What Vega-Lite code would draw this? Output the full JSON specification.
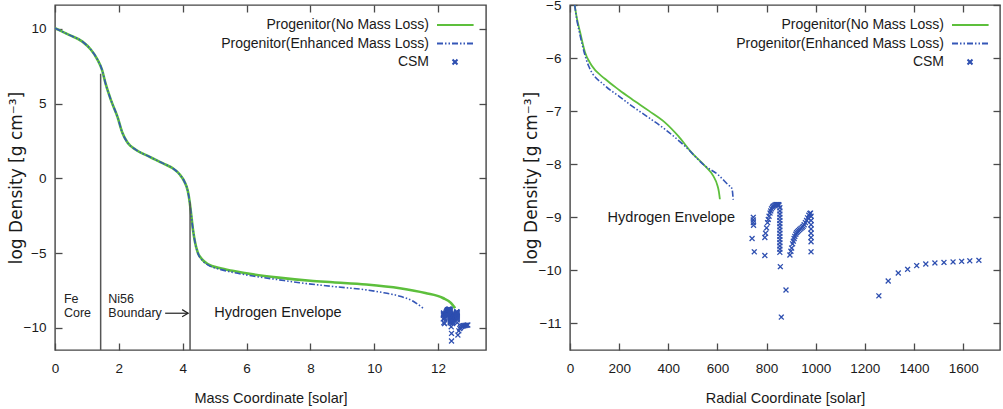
{
  "$schema": "https://vega.github.io/schema/vega-lite/v6.json",
  "autosize": {"type": "none"},
  "padding": {"left": 55, "top": 5, "right": 948, "bottom": 404},
  "spacing": 84,
  "bounds": "flush",
  "config": {
    "font": "Liberation Sans",
    "view": {"stroke": "#454545", "strokeWidth": 1.4},
    "axis": {"domain": false, "grid": false, "tickSize": -7, "tickColor": "#4a4a4a", "tickWidth": 1.3, "labelFont": "Liberation Sans", "labelFontSize": 13.5, "labelColor": "#1a1a1a", "labelFlush": false, "labelOverlap": false, "titleFont": "Liberation Sans", "titleFontSize": 14.5, "titleFontWeight": "normal", "titleColor": "#1a1a1a"},
    "axisX": {"labelPadding": 18, "titlePadding": 17},
    "axisY": {"labelPadding": 16, "titlePadding": -2, "titleFont": "DejaVu Sans", "titleFontSize": 17},
    "legend": {"symbolSize": 36, "symbolStrokeWidth": 2, "labelFont": "Liberation Sans", "labelFontSize": 14, "labelColor": "#1a1a1a", "labelAlign": "right", "labelOffset": -33, "labelLimit": 400, "rowPadding": 4.5, "padding": 0, "title": null}
  },
  "datasets": {
    "massProfile": [
      {"series": "Progenitor(No Mass Loss)", "m": 0, "d": 10.05},
      {"series": "Progenitor(No Mass Loss)", "m": 0.44, "d": 9.6},
      {"series": "Progenitor(No Mass Loss)", "m": 0.86, "d": 9.15},
      {"series": "Progenitor(No Mass Loss)", "m": 1.12, "d": 8.62},
      {"series": "Progenitor(No Mass Loss)", "m": 1.33, "d": 7.95},
      {"series": "Progenitor(No Mass Loss)", "m": 1.47, "d": 7.28},
      {"series": "Progenitor(No Mass Loss)", "m": 1.59, "d": 6.3},
      {"series": "Progenitor(No Mass Loss)", "m": 1.75, "d": 5.25},
      {"series": "Progenitor(No Mass Loss)", "m": 1.96, "d": 4.1},
      {"series": "Progenitor(No Mass Loss)", "m": 2.11, "d": 3.05},
      {"series": "Progenitor(No Mass Loss)", "m": 2.27, "d": 2.4},
      {"series": "Progenitor(No Mass Loss)", "m": 2.53, "d": 1.92},
      {"series": "Progenitor(No Mass Loss)", "m": 2.95, "d": 1.46},
      {"series": "Progenitor(No Mass Loss)", "m": 3.37, "d": 1.02},
      {"series": "Progenitor(No Mass Loss)", "m": 3.7, "d": 0.66},
      {"series": "Progenitor(No Mass Loss)", "m": 3.9, "d": 0.28},
      {"series": "Progenitor(No Mass Loss)", "m": 4.05, "d": -0.2},
      {"series": "Progenitor(No Mass Loss)", "m": 4.16, "d": -0.85},
      {"series": "Progenitor(No Mass Loss)", "m": 4.22, "d": -1.6},
      {"series": "Progenitor(No Mass Loss)", "m": 4.27, "d": -2.5},
      {"series": "Progenitor(No Mass Loss)", "m": 4.32, "d": -3.4},
      {"series": "Progenitor(No Mass Loss)", "m": 4.38, "d": -4.2},
      {"series": "Progenitor(No Mass Loss)", "m": 4.47, "d": -4.95},
      {"series": "Progenitor(No Mass Loss)", "m": 4.6, "d": -5.4},
      {"series": "Progenitor(No Mass Loss)", "m": 4.8, "d": -5.75},
      {"series": "Progenitor(No Mass Loss)", "m": 5.15, "d": -6.0},
      {"series": "Progenitor(No Mass Loss)", "m": 5.6, "d": -6.2},
      {"series": "Progenitor(No Mass Loss)", "m": 6.2, "d": -6.42},
      {"series": "Progenitor(No Mass Loss)", "m": 7.0, "d": -6.64},
      {"series": "Progenitor(No Mass Loss)", "m": 8.0, "d": -6.85},
      {"series": "Progenitor(No Mass Loss)", "m": 8.7, "d": -6.95},
      {"series": "Progenitor(No Mass Loss)", "m": 9.75, "d": -7.1},
      {"series": "Progenitor(No Mass Loss)", "m": 10.8, "d": -7.35},
      {"series": "Progenitor(No Mass Loss)", "m": 11.6, "d": -7.67},
      {"series": "Progenitor(No Mass Loss)", "m": 12.15, "d": -8.0},
      {"series": "Progenitor(No Mass Loss)", "m": 12.4, "d": -8.33},
      {"series": "Progenitor(No Mass Loss)", "m": 12.53, "d": -8.68},
      {"series": "Progenitor(Enhanced Mass Loss)", "m": 0, "d": 10.05},
      {"series": "Progenitor(Enhanced Mass Loss)", "m": 0.44, "d": 9.6},
      {"series": "Progenitor(Enhanced Mass Loss)", "m": 0.86, "d": 9.15},
      {"series": "Progenitor(Enhanced Mass Loss)", "m": 1.12, "d": 8.62},
      {"series": "Progenitor(Enhanced Mass Loss)", "m": 1.33, "d": 7.95},
      {"series": "Progenitor(Enhanced Mass Loss)", "m": 1.47, "d": 7.28},
      {"series": "Progenitor(Enhanced Mass Loss)", "m": 1.59, "d": 6.3},
      {"series": "Progenitor(Enhanced Mass Loss)", "m": 1.75, "d": 5.25},
      {"series": "Progenitor(Enhanced Mass Loss)", "m": 1.96, "d": 4.1},
      {"series": "Progenitor(Enhanced Mass Loss)", "m": 2.11, "d": 3.05},
      {"series": "Progenitor(Enhanced Mass Loss)", "m": 2.27, "d": 2.4},
      {"series": "Progenitor(Enhanced Mass Loss)", "m": 2.53, "d": 1.92},
      {"series": "Progenitor(Enhanced Mass Loss)", "m": 2.95, "d": 1.46},
      {"series": "Progenitor(Enhanced Mass Loss)", "m": 3.37, "d": 1.02},
      {"series": "Progenitor(Enhanced Mass Loss)", "m": 3.7, "d": 0.66},
      {"series": "Progenitor(Enhanced Mass Loss)", "m": 3.9, "d": 0.28},
      {"series": "Progenitor(Enhanced Mass Loss)", "m": 4.05, "d": -0.2},
      {"series": "Progenitor(Enhanced Mass Loss)", "m": 4.16, "d": -0.85},
      {"series": "Progenitor(Enhanced Mass Loss)", "m": 4.22, "d": -1.6},
      {"series": "Progenitor(Enhanced Mass Loss)", "m": 4.27, "d": -2.5},
      {"series": "Progenitor(Enhanced Mass Loss)", "m": 4.32, "d": -3.4},
      {"series": "Progenitor(Enhanced Mass Loss)", "m": 4.38, "d": -4.2},
      {"series": "Progenitor(Enhanced Mass Loss)", "m": 4.47, "d": -4.98},
      {"series": "Progenitor(Enhanced Mass Loss)", "m": 4.6, "d": -5.45},
      {"series": "Progenitor(Enhanced Mass Loss)", "m": 4.8, "d": -5.8},
      {"series": "Progenitor(Enhanced Mass Loss)", "m": 5.15, "d": -6.07},
      {"series": "Progenitor(Enhanced Mass Loss)", "m": 5.6, "d": -6.3},
      {"series": "Progenitor(Enhanced Mass Loss)", "m": 6.2, "d": -6.53},
      {"series": "Progenitor(Enhanced Mass Loss)", "m": 7.0, "d": -6.78},
      {"series": "Progenitor(Enhanced Mass Loss)", "m": 7.66, "d": -6.98},
      {"series": "Progenitor(Enhanced Mass Loss)", "m": 8.7, "d": -7.23},
      {"series": "Progenitor(Enhanced Mass Loss)", "m": 9.75, "d": -7.46},
      {"series": "Progenitor(Enhanced Mass Loss)", "m": 10.3, "d": -7.65},
      {"series": "Progenitor(Enhanced Mass Loss)", "m": 10.8, "d": -7.88},
      {"series": "Progenitor(Enhanced Mass Loss)", "m": 11.22, "d": -8.22},
      {"series": "Progenitor(Enhanced Mass Loss)", "m": 11.53, "d": -8.68}
    ],
    "radiusProfile": [
      {"series": "Progenitor(No Mass Loss)", "r": 19, "d": -5.0},
      {"series": "Progenitor(No Mass Loss)", "r": 28, "d": -5.25},
      {"series": "Progenitor(No Mass Loss)", "r": 41, "d": -5.51},
      {"series": "Progenitor(No Mass Loss)", "r": 61, "d": -5.89},
      {"series": "Progenitor(No Mass Loss)", "r": 88, "d": -6.14},
      {"series": "Progenitor(No Mass Loss)", "r": 142, "d": -6.39},
      {"series": "Progenitor(No Mass Loss)", "r": 200, "d": -6.6},
      {"series": "Progenitor(No Mass Loss)", "r": 251, "d": -6.77},
      {"series": "Progenitor(No Mass Loss)", "r": 320, "d": -6.99},
      {"series": "Progenitor(No Mass Loss)", "r": 386, "d": -7.21},
      {"series": "Progenitor(No Mass Loss)", "r": 441, "d": -7.47},
      {"series": "Progenitor(No Mass Loss)", "r": 495, "d": -7.78},
      {"series": "Progenitor(No Mass Loss)", "r": 549, "d": -8.03},
      {"series": "Progenitor(No Mass Loss)", "r": 583, "d": -8.22},
      {"series": "Progenitor(No Mass Loss)", "r": 600, "d": -8.4},
      {"series": "Progenitor(No Mass Loss)", "r": 606, "d": -8.52},
      {"series": "Progenitor(No Mass Loss)", "r": 610, "d": -8.66},
      {"series": "Progenitor(Enhanced Mass Loss)", "r": 19, "d": -5.0},
      {"series": "Progenitor(Enhanced Mass Loss)", "r": 28, "d": -5.28},
      {"series": "Progenitor(Enhanced Mass Loss)", "r": 41, "d": -5.57},
      {"series": "Progenitor(Enhanced Mass Loss)", "r": 75, "d": -6.14},
      {"series": "Progenitor(Enhanced Mass Loss)", "r": 142, "d": -6.52},
      {"series": "Progenitor(Enhanced Mass Loss)", "r": 200, "d": -6.72},
      {"series": "Progenitor(Enhanced Mass Loss)", "r": 251, "d": -6.9},
      {"series": "Progenitor(Enhanced Mass Loss)", "r": 320, "d": -7.12},
      {"series": "Progenitor(Enhanced Mass Loss)", "r": 386, "d": -7.34},
      {"series": "Progenitor(Enhanced Mass Loss)", "r": 468, "d": -7.66},
      {"series": "Progenitor(Enhanced Mass Loss)", "r": 549, "d": -8.03},
      {"series": "Progenitor(Enhanced Mass Loss)", "r": 603, "d": -8.2},
      {"series": "Progenitor(Enhanced Mass Loss)", "r": 644, "d": -8.39},
      {"series": "Progenitor(Enhanced Mass Loss)", "r": 658, "d": -8.45},
      {"series": "Progenitor(Enhanced Mass Loss)", "r": 662, "d": -8.55},
      {"series": "Progenitor(Enhanced Mass Loss)", "r": 664, "d": -8.67}
    ],
    "csm": [
      {"series": "CSM", "r": 741, "m": 12.16, "d": -9.4},
      {"series": "CSM", "r": 746, "m": 12.17, "d": -9.0},
      {"series": "CSM", "r": 746, "m": 12.17, "d": -9.05},
      {"series": "CSM", "r": 746, "m": 12.17, "d": -9.1},
      {"series": "CSM", "r": 747, "m": 12.17, "d": -9.15},
      {"series": "CSM", "r": 750, "m": 12.18, "d": -9.65},
      {"series": "CSM", "r": 793, "m": 12.2, "d": -9.38},
      {"series": "CSM", "r": 793, "m": 12.2, "d": -9.72},
      {"series": "CSM", "r": 796, "m": 12.21, "d": -9.3},
      {"series": "CSM", "r": 800, "m": 12.22, "d": -9.2},
      {"series": "CSM", "r": 804, "m": 12.23, "d": -9.1},
      {"series": "CSM", "r": 807, "m": 12.24, "d": -9.04},
      {"series": "CSM", "r": 810, "m": 12.25, "d": -8.98},
      {"series": "CSM", "r": 814, "m": 12.26, "d": -8.92},
      {"series": "CSM", "r": 817, "m": 12.27, "d": -8.88},
      {"series": "CSM", "r": 820, "m": 12.28, "d": -8.84},
      {"series": "CSM", "r": 824, "m": 12.29, "d": -8.81},
      {"series": "CSM", "r": 827, "m": 12.3, "d": -8.79},
      {"series": "CSM", "r": 831, "m": 12.31, "d": -8.78},
      {"series": "CSM", "r": 834, "m": 12.32, "d": -8.77},
      {"series": "CSM", "r": 838, "m": 12.33, "d": -8.76},
      {"series": "CSM", "r": 841, "m": 12.34, "d": -8.76},
      {"series": "CSM", "r": 845, "m": 12.35, "d": -8.76},
      {"series": "CSM", "r": 848, "m": 12.36, "d": -8.76},
      {"series": "CSM", "r": 851, "m": 12.37, "d": -8.77},
      {"series": "CSM", "r": 854, "m": 12.38, "d": -8.82},
      {"series": "CSM", "r": 854, "m": 12.38, "d": -8.88},
      {"series": "CSM", "r": 854, "m": 12.38, "d": -8.94},
      {"series": "CSM", "r": 854, "m": 12.38, "d": -9.0},
      {"series": "CSM", "r": 854, "m": 12.38, "d": -9.06},
      {"series": "CSM", "r": 854, "m": 12.38, "d": -9.12},
      {"series": "CSM", "r": 854, "m": 12.38, "d": -9.18},
      {"series": "CSM", "r": 854, "m": 12.38, "d": -9.24},
      {"series": "CSM", "r": 854, "m": 12.38, "d": -9.3},
      {"series": "CSM", "r": 854, "m": 12.38, "d": -9.36},
      {"series": "CSM", "r": 854, "m": 12.38, "d": -9.42},
      {"series": "CSM", "r": 854, "m": 12.38, "d": -9.48},
      {"series": "CSM", "r": 854, "m": 12.38, "d": -9.54},
      {"series": "CSM", "r": 854, "m": 12.38, "d": -9.6},
      {"series": "CSM", "r": 854, "m": 12.38, "d": -9.66},
      {"series": "CSM", "r": 856, "m": 12.41, "d": -9.93},
      {"series": "CSM", "r": 879, "m": 12.42, "d": -10.37},
      {"series": "CSM", "r": 860, "m": 12.42, "d": -10.88},
      {"series": "CSM", "r": 895, "m": 12.45, "d": -9.71},
      {"series": "CSM", "r": 899, "m": 12.46, "d": -9.64},
      {"series": "CSM", "r": 902, "m": 12.46, "d": -9.58},
      {"series": "CSM", "r": 906, "m": 12.47, "d": -9.5},
      {"series": "CSM", "r": 909, "m": 12.47, "d": -9.45},
      {"series": "CSM", "r": 912, "m": 12.48, "d": -9.4},
      {"series": "CSM", "r": 915, "m": 12.49, "d": -9.36},
      {"series": "CSM", "r": 919, "m": 12.49, "d": -9.32},
      {"series": "CSM", "r": 922, "m": 12.5, "d": -9.29},
      {"series": "CSM", "r": 926, "m": 12.51, "d": -9.27},
      {"series": "CSM", "r": 930, "m": 12.51, "d": -9.25},
      {"series": "CSM", "r": 935, "m": 12.52, "d": -9.23},
      {"series": "CSM", "r": 940, "m": 12.53, "d": -9.21},
      {"series": "CSM", "r": 945, "m": 12.54, "d": -9.19},
      {"series": "CSM", "r": 949, "m": 12.54, "d": -9.17},
      {"series": "CSM", "r": 953, "m": 12.55, "d": -9.14},
      {"series": "CSM", "r": 958, "m": 12.56, "d": -9.1},
      {"series": "CSM", "r": 963, "m": 12.56, "d": -9.06},
      {"series": "CSM", "r": 967, "m": 12.57, "d": -9.01},
      {"series": "CSM", "r": 972, "m": 12.58, "d": -8.96},
      {"series": "CSM", "r": 976, "m": 12.58, "d": -8.93},
      {"series": "CSM", "r": 979, "m": 12.59, "d": -8.92},
      {"series": "CSM", "r": 981, "m": 12.6, "d": -8.98},
      {"series": "CSM", "r": 981, "m": 12.6, "d": -9.06},
      {"series": "CSM", "r": 981, "m": 12.6, "d": -9.14},
      {"series": "CSM", "r": 981, "m": 12.6, "d": -9.22},
      {"series": "CSM", "r": 981, "m": 12.6, "d": -9.3},
      {"series": "CSM", "r": 981, "m": 12.6, "d": -9.38},
      {"series": "CSM", "r": 981, "m": 12.6, "d": -9.46},
      {"series": "CSM", "r": 981, "m": 12.6, "d": -9.65},
      {"series": "CSM", "r": 1257, "m": 12.62, "d": -10.48},
      {"series": "CSM", "r": 1295, "m": 12.65, "d": -10.2},
      {"series": "CSM", "r": 1336, "m": 12.68, "d": -10.05},
      {"series": "CSM", "r": 1374, "m": 12.7, "d": -9.98},
      {"series": "CSM", "r": 1411, "m": 12.73, "d": -9.91},
      {"series": "CSM", "r": 1448, "m": 12.76, "d": -9.88},
      {"series": "CSM", "r": 1485, "m": 12.79, "d": -9.86},
      {"series": "CSM", "r": 1522, "m": 12.81, "d": -9.85},
      {"series": "CSM", "r": 1559, "m": 12.84, "d": -9.84},
      {"series": "CSM", "r": 1594, "m": 12.87, "d": -9.83},
      {"series": "CSM", "r": 1627, "m": 12.9, "d": -9.82},
      {"series": "CSM", "r": 1664, "m": 12.93, "d": -9.81}
    ],
    "boundaries": [
      {"m": 1.43, "top": 7.0, "bottom": -11.48},
      {"m": 4.23, "top": -1.6, "bottom": -11.48}
    ],
    "arrow": [
      {"m": 3.45, "m2": 4.17, "d": -9.02}
    ],
    "leftNotes": [
      {"m": 0.28, "d": -8.05, "label": "Fe"},
      {"m": 0.28, "d": -9.0, "label": "Core"},
      {"m": 1.67, "d": -8.05, "label": "Ni56"},
      {"m": 1.67, "d": -9.0, "label": "Boundary"}
    ],
    "leftRegion": [
      {"m": 4.99, "d": -9.02, "label": "Hydrogen Envelope"}
    ],
    "rightRegion": [
      {"r": 153, "d": -9.02, "label": "Hydrogen Envelope"}
    ]
  },
  "resolve": {"scale": {"color": "independent", "shape": "independent", "strokeDash": "independent"}, "legend": {"color": "independent", "shape": "independent", "strokeDash": "independent"}},
  "hconcat": [
    {
      "width": 431,
      "height": 345,
      "resolve": {"axis": {"x": "independent", "y": "independent"}},
      "layer": [
        {
          "data": {"name": "massProfile"},
          "transform": [{"filter": "datum.series === 'Progenitor(No Mass Loss)'"}],
          "mark": {"type": "line", "color": "#5dbf3c", "strokeWidth": 2.6, "interpolate": "monotone", "clip": true},
          "encoding": {
            "x": {"field": "m", "type": "quantitative", "scale": {"domain": [0, 13.5], "nice": false, "zero": false}, "axis": {"title": "Mass Coordinate [solar]", "values": [0, 2, 4, 6, 8, 10, 12], "format": "d"}},
            "y": {"field": "d", "type": "quantitative", "scale": {"domain": [-11.48, 11.6], "nice": false, "zero": false}, "axis": {"title": "log Density [g cm⁻³]", "values": [-10, -5, 0, 5, 10], "format": "d"}}
          }
        },
        {
          "data": {"name": "massProfile"},
          "transform": [{"filter": "datum.series === 'Progenitor(Enhanced Mass Loss)'"}],
          "mark": {"type": "line", "color": "#3557b7", "strokeWidth": 1.6, "strokeDash": [6, 2, 1.5, 2, 1.5, 2], "interpolate": "monotone", "clip": true},
          "encoding": {
            "x": {"field": "m", "type": "quantitative", "axis": null},
            "y": {"field": "d", "type": "quantitative", "axis": null}
          }
        },
        {
          "data": {"name": "boundaries"},
          "mark": {"type": "rule", "color": "#555555", "strokeWidth": 1.5},
          "encoding": {
            "x": {"field": "m", "type": "quantitative", "axis": null},
            "y": {"field": "top", "type": "quantitative", "axis": null},
            "y2": {"field": "bottom"}
          }
        },
        {
          "data": {"name": "arrow"},
          "mark": {"type": "rule", "color": "#222222", "strokeWidth": 1.2},
          "encoding": {
            "x": {"field": "m", "type": "quantitative", "axis": null},
            "x2": {"field": "m2"},
            "y": {"field": "d", "type": "quantitative", "axis": null}
          }
        },
        {
          "data": {"name": "arrow"},
          "mark": {"type": "point", "shape": "M-1,-0.6L0,0L-1,0.6", "size": 144, "filled": false, "color": "#222222", "strokeWidth": 1.2, "opacity": 1},
          "encoding": {
            "x": {"field": "m2", "type": "quantitative", "axis": null},
            "y": {"field": "d", "type": "quantitative", "axis": null}
          }
        },
        {
          "data": {"name": "leftNotes"},
          "mark": {"type": "text", "align": "left", "baseline": "middle", "fontSize": 12.5, "font": "Liberation Sans", "color": "#222222"},
          "encoding": {
            "x": {"field": "m", "type": "quantitative", "axis": null},
            "y": {"field": "d", "type": "quantitative", "axis": null},
            "text": {"field": "label"}
          }
        },
        {
          "data": {"name": "leftRegion"},
          "mark": {"type": "text", "align": "left", "baseline": "middle", "fontSize": 14.5, "font": "Liberation Sans", "color": "#1a1a1a"},
          "encoding": {
            "x": {"field": "m", "type": "quantitative", "axis": null},
            "y": {"field": "d", "type": "quantitative", "axis": null},
            "text": {"field": "label"}
          }
        },
        {
          "data": {"name": "csm"},
          "mark": {"type": "point", "filled": false, "size": 36, "strokeWidth": 1.3, "opacity": 1, "clip": true},
          "encoding": {
            "x": {"field": "m", "type": "quantitative", "axis": {"orient": "top", "labels": false, "title": null, "values": [0, 2, 4, 6, 8, 10, 12]}},
            "y": {"field": "d", "type": "quantitative", "axis": {"orient": "right", "labels": false, "title": null, "values": [-10, -5, 0, 5, 10]}},
            "color": {"field": "series", "type": "nominal", "scale": {"domain": ["Progenitor(No Mass Loss)", "Progenitor(Enhanced Mass Loss)", "CSM"], "range": ["#5dbf3c", "#3557b7", "#2e4fb0"]}, "legend": {"orient": "none", "legendX": 393, "legendY": 13, "title": null}},
            "shape": {"field": "series", "type": "nominal", "scale": {"domain": ["Progenitor(No Mass Loss)", "Progenitor(Enhanced Mass Loss)", "CSM"], "range": ["M-6,0L6.2,0", "M-6,0L6.2,0", "M-0.82,-0.82L0.82,0.82M-0.82,0.82L0.82,-0.82"]}, "legend": {"orient": "none", "legendX": 393, "legendY": 13, "title": null}},
            "strokeDash": {"field": "series", "type": "nominal", "scale": {"domain": ["Progenitor(No Mass Loss)", "Progenitor(Enhanced Mass Loss)", "CSM"], "range": [[1, 0], [6, 2, 1.5, 2, 1.5, 2], [1, 0]]}, "legend": {"orient": "none", "legendX": 393, "legendY": 13, "title": null}}
          }
        }
      ]
    },
    {
      "width": 430,
      "height": 345,
      "resolve": {"axis": {"x": "independent", "y": "independent"}},
      "layer": [
        {
          "data": {"name": "radiusProfile"},
          "transform": [{"filter": "datum.series === 'Progenitor(No Mass Loss)'"}],
          "mark": {"type": "line", "color": "#5dbf3c", "strokeWidth": 1.8, "interpolate": "monotone", "clip": true},
          "encoding": {
            "x": {"field": "r", "type": "quantitative", "scale": {"domain": [0, 1750], "nice": false, "zero": false}, "axis": {"title": "Radial Coordinate [solar]", "values": [0, 200, 400, 600, 800, 1000, 1200, 1400, 1600], "format": "d"}},
            "y": {"field": "d", "type": "quantitative", "scale": {"domain": [-11.5, -5], "nice": false, "zero": false}, "axis": {"title": "log Density [g cm⁻³]", "values": [-11, -10, -9, -8, -7, -6, -5], "format": "d"}}
          }
        },
        {
          "data": {"name": "radiusProfile"},
          "transform": [{"filter": "datum.series === 'Progenitor(Enhanced Mass Loss)'"}],
          "mark": {"type": "line", "color": "#3557b7", "strokeWidth": 1.6, "strokeDash": [6, 2, 1.5, 2, 1.5, 2], "interpolate": "monotone", "clip": true},
          "encoding": {
            "x": {"field": "r", "type": "quantitative", "axis": null},
            "y": {"field": "d", "type": "quantitative", "axis": null}
          }
        },
        {
          "data": {"name": "rightRegion"},
          "mark": {"type": "text", "align": "left", "baseline": "middle", "fontSize": 14.5, "font": "Liberation Sans", "color": "#1a1a1a"},
          "encoding": {
            "x": {"field": "r", "type": "quantitative", "axis": null},
            "y": {"field": "d", "type": "quantitative", "axis": null},
            "text": {"field": "label"}
          }
        },
        {
          "data": {"name": "csm"},
          "mark": {"type": "point", "filled": false, "size": 36, "strokeWidth": 1.3, "opacity": 1, "clip": true},
          "encoding": {
            "x": {"field": "r", "type": "quantitative", "axis": {"orient": "top", "labels": false, "title": null, "values": [0, 200, 400, 600, 800, 1000, 1200, 1400, 1600]}},
            "y": {"field": "d", "type": "quantitative", "axis": {"orient": "right", "labels": false, "title": null, "values": [-11, -10, -9, -8, -7, -6, -5]}},
            "color": {"field": "series", "type": "nominal", "scale": {"domain": ["Progenitor(No Mass Loss)", "Progenitor(Enhanced Mass Loss)", "CSM"], "range": ["#5dbf3c", "#3557b7", "#2e4fb0"]}, "legend": {"orient": "none", "legendX": 393, "legendY": 13, "title": null}},
            "shape": {"field": "series", "type": "nominal", "scale": {"domain": ["Progenitor(No Mass Loss)", "Progenitor(Enhanced Mass Loss)", "CSM"], "range": ["M-6,0L6.2,0", "M-6,0L6.2,0", "M-0.82,-0.82L0.82,0.82M-0.82,0.82L0.82,-0.82"]}, "legend": {"orient": "none", "legendX": 393, "legendY": 13, "title": null}},
            "strokeDash": {"field": "series", "type": "nominal", "scale": {"domain": ["Progenitor(No Mass Loss)", "Progenitor(Enhanced Mass Loss)", "CSM"], "range": [[1, 0], [6, 2, 1.5, 2, 1.5, 2], [1, 0]]}, "legend": {"orient": "none", "legendX": 393, "legendY": 13, "title": null}}
          }
        }
      ]
    }
  ]
}
